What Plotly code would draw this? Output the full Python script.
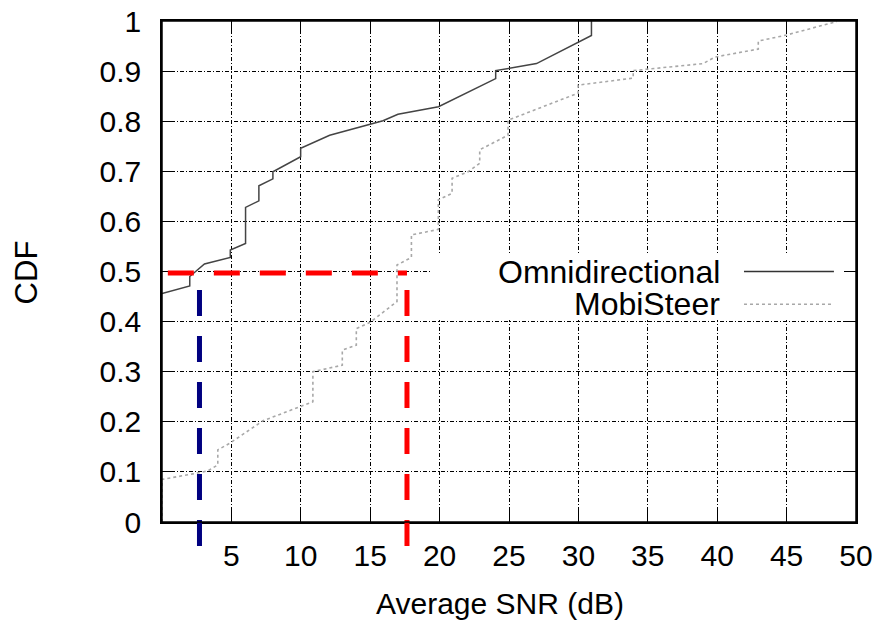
import plotly.graph_objects as go

# ---- data ----
omni_x = [0, 2.0, 2.0, 3.06, 4.92, 4.92, 6.02, 6.02, 6.98, 6.98, 7.99, 7.99, 9.99, 9.99,
          12.08, 15.92, 17.0, 19.92, 24.04, 24.04, 26.98, 30.94, 30.94]
omni_y = [0.456, 0.471, 0.49, 0.515, 0.528, 0.543, 0.556, 0.628, 0.641, 0.671, 0.685, 0.699,
          0.729, 0.746, 0.772, 0.801, 0.814, 0.829, 0.885, 0.901, 0.915, 0.971, 1.0]

mobi_x = [0, 0, 2.22, 3.3, 4.02, 4.02, 4.87, 7.27, 10.87, 10.87, 12.99, 12.99, 14.0, 14.0,
          14.96, 16.93, 16.93, 17.97, 17.97, 19.91, 19.91, 20.9, 20.9, 22.05, 22.89, 22.89,
          24.93, 24.93, 29.98, 29.98, 33.95, 33.95, 38.99, 39.83, 42.96, 42.96, 45.0, 48.61]
mobi_y = [0, 0.085, 0.096, 0.102, 0.114, 0.144, 0.157, 0.202, 0.24, 0.30, 0.313, 0.343,
          0.353, 0.386, 0.398, 0.44, 0.513, 0.528, 0.573, 0.584, 0.643, 0.656, 0.686, 0.699,
          0.716, 0.743, 0.772, 0.802, 0.856, 0.872, 0.886, 0.901, 0.915, 0.928, 0.944, 0.96,
          0.972, 0.999]

series_names = ["Omnidirectional", "MobiSteer"]
median_level = 0.5
omni_median = 2.7
mobi_median = 17.65

x_ticks = [5, 10, 15, 20, 25, 30, 35, 40, 45, 50]
y_ticks = [0, 0.1, 0.2, 0.3, 0.4, 0.5, 0.6, 0.7, 0.8, 0.9, 1]
y_tick_labels = ["0", "0.1", "0.2", "0.3", "0.4", "0.5", "0.6", "0.7", "0.8", "0.9", "1"]

FONT = "Liberation Sans, Arial, sans-serif"
OMNI_COLOR = "#444444"
MOBI_COLOR = "#a8a8a8"

fig = go.Figure()
fig.add_trace(go.Scatter(x=omni_x, y=omni_y, mode="lines", name=series_names[0],
                         line=dict(color=OMNI_COLOR, width=1.5), showlegend=False))
fig.add_trace(go.Scatter(x=mobi_x, y=mobi_y, mode="lines", name=series_names[1],
                         line=dict(color=MOBI_COLOR, width=1.6, dash="3px,3px"), showlegend=False))

shapes = []
# key box (white) covering grid
shapes.append(dict(type="rect", xref="x", yref="y", x0=19.43, x1=50, y0=0.403, y1=0.533,
                   fillcolor="white", line=dict(width=0), layer="between"))
# key samples
shapes.append(dict(type="line", xref="x", yref="y", x0=41.93, x1=48.41, y0=0.5, y1=0.5,
                   line=dict(color="#333333", width=1.6)))
shapes.append(dict(type="line", xref="x", yref="y", x0=41.93, x1=48.41, y0=0.4345, y1=0.4345,
                   line=dict(color=MOBI_COLOR, width=1.6, dash="3px,3px")))
# median markers
shapes.append(dict(type="line", xref="x", yref="y", x0=0.42, x1=mobi_median,
                   y0=median_level - 0.003, y1=median_level - 0.003,
                   line=dict(color="#ff0000", width=5, dash="26px,20px")))
shapes.append(dict(type="line", xref="x", yref="paper", x0=mobi_median, x1=mobi_median,
                   y0=-0.048, y1=median_level,
                   line=dict(color="#ff0000", width=5, dash="26px,20px")))
shapes.append(dict(type="line", xref="x", yref="paper", x0=omni_median, x1=omni_median,
                   y0=-0.048, y1=median_level,
                   line=dict(color="#000080", width=5, dash="26px,20px")))
# plot frame
shapes.append(dict(type="rect", xref="paper", yref="paper", x0=0, x1=1, y0=0, y1=1,
                   line=dict(color="black", width=1.5), fillcolor="rgba(0,0,0,0)"))

annotations = [
    dict(text=series_names[0], x=40.33, y=0.5, xref="x", yref="y", xanchor="right",
         yanchor="middle", showarrow=False, font=dict(family=FONT, size=32, color="black")),
    dict(text=series_names[1], x=40.33, y=0.4345, xref="x", yref="y", xanchor="right",
         yanchor="middle", showarrow=False, font=dict(family=FONT, size=32, color="black")),
    dict(text="Average SNR (dB)", x=0.4867, y=-0.162, xref="paper", yref="paper",
         xanchor="center", yanchor="middle", showarrow=False,
         font=dict(family=FONT, size=30, color="black")),
    dict(text="CDF", x=-0.1954, y=0.499, xref="paper", yref="paper", textangle=-90,
         xanchor="center", yanchor="middle", showarrow=False,
         font=dict(family=FONT, size=31, color="black")),
]

axis_common = dict(showline=True, linecolor="black", linewidth=1.5, mirror="ticks",
                   ticks="inside", ticklen=12, tickwidth=1.2, tickcolor="black",
                   showgrid=True, gridcolor="black", gridwidth=1, griddash="4px,2px,1px,2px",
                   zeroline=False, automargin=False, ticklabeloverflow="allow",
                   tickfont=dict(family=FONT, size=30, color="black"))

fig.update_layout(
    width=880, height=623,
    margin=dict(l=162, r=24, t=21, b=101, autoexpand=False),
    paper_bgcolor="white", plot_bgcolor="white",
    shapes=shapes, annotations=annotations,
    xaxis=dict(range=[0, 50], tickmode="array", tickvals=x_ticks,
               ticktext=[str(v) for v in x_ticks], ticklabelstandoff=6, **axis_common),
    yaxis=dict(range=[0, 1], tickmode="array", tickvals=y_ticks, ticktext=y_tick_labels,
               ticklabelstandoff=13, **axis_common),
)

# remove the browser's default 8px body margin so the figure sits at the page origin
fig.write_html("out.html", config={"displayModeBar": False},
               post_script="document.body.style.margin='0';")
